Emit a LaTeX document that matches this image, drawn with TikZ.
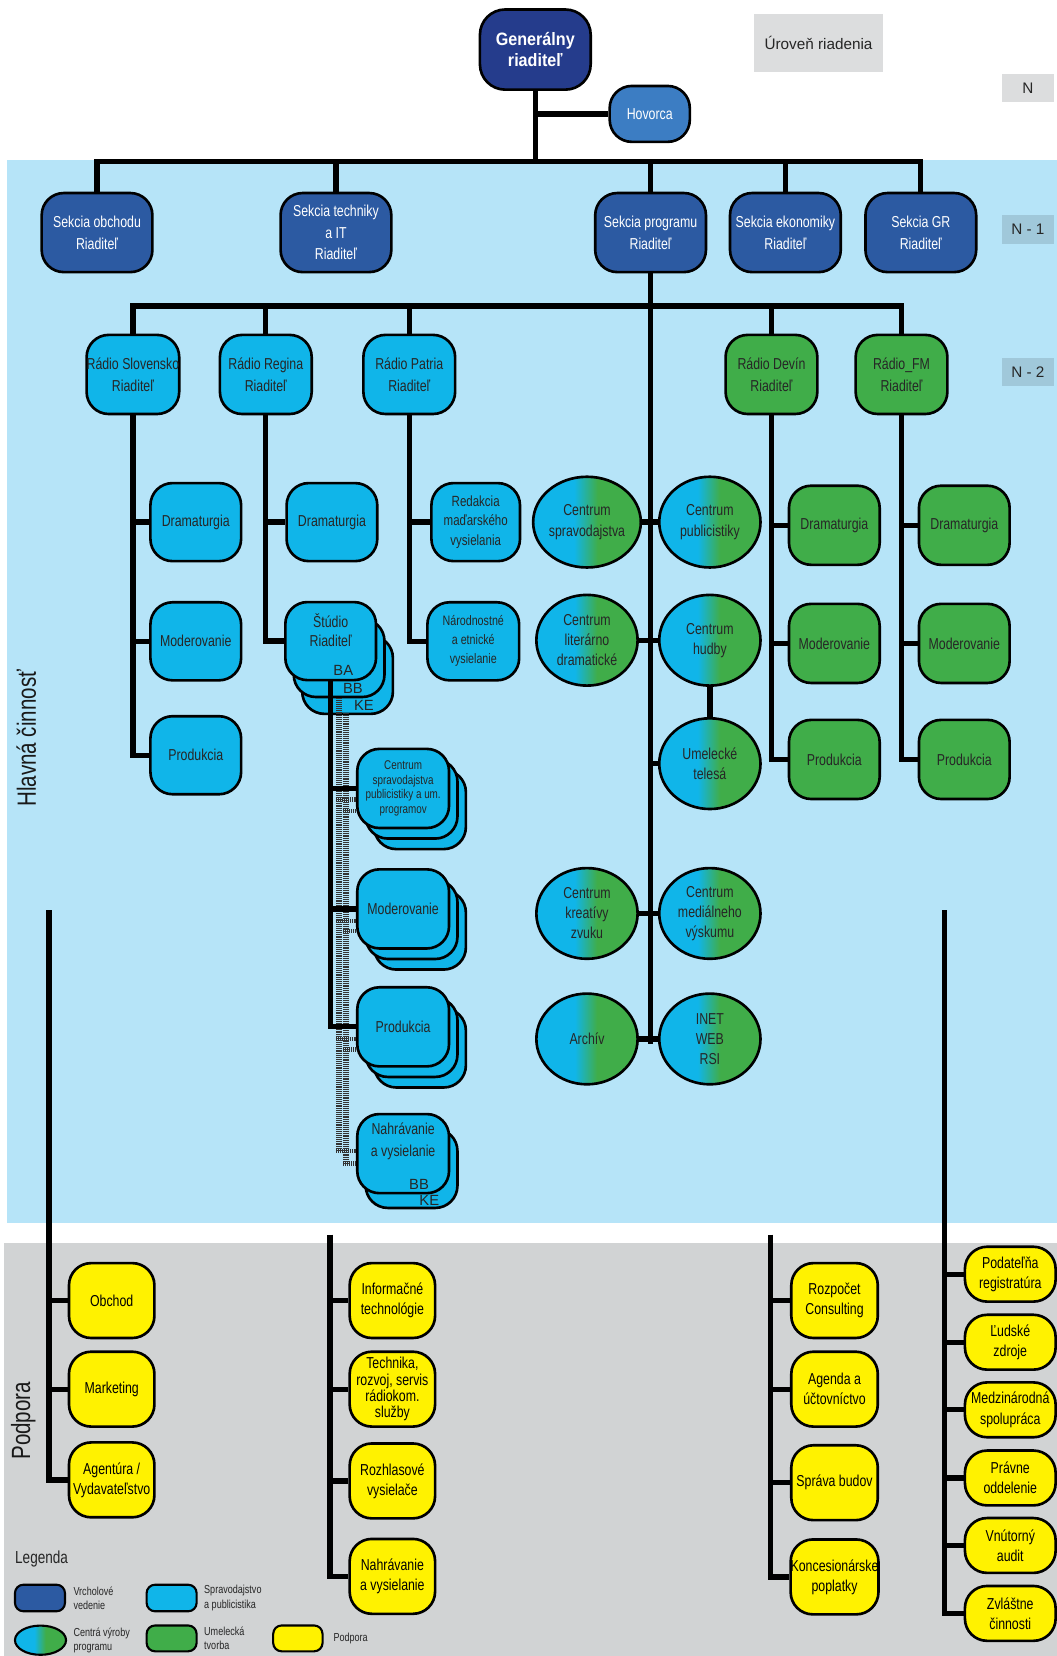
\documentclass[tikz,border=0pt]{standalone}
\usepackage{fontspec}
\setmainfont{Liberation Sans}[FakeStretch=0.78]
\newfontfamily\plainfont{Liberation Sans}
\newfontfamily\grfont{Liberation Sans}[FakeStretch=0.9]
\usetikzlibrary{shapes.geometric}
\definecolor{bgblue}{RGB}{182,228,248}
\definecolor{bggray}{RGB}{209,211,212}
\definecolor{lvlgray}{RGB}{220,221,222}
\definecolor{lvlblue}{RGB}{160,200,218}
\definecolor{topblue}{RGB}{37,60,140}
\definecolor{secblue}{RGB}{44,90,162}
\definecolor{hovblue}{RGB}{60,125,195}
\definecolor{cyanbox}{RGB}{16,181,233}
\definecolor{greenbox}{RGB}{64,173,73}
\definecolor{yellowbox}{RGB}{255,242,0}
\pgfdeclarehorizontalshading{cgrad}{100bp}{color(0bp)=(cyanbox); color(44bp)=(cyanbox); color(55bp)=(greenbox); color(100bp)=(greenbox)}
\tikzset{
  wh/.style 2 args={minimum width=#1pt, minimum height=#2pt},
  box/.style={draw=black, line width=2.5pt, rounded corners=21pt, inner sep=0pt, align=center, font=\fontsize{15}{20.5}\selectfont},
  topbox/.style={box, fill=topblue, text=white},
  secbox/.style={box, fill=secblue, text=white},
  cyb/.style={box, fill=cyanbox, text=black!85},
  grb/.style={box, fill=greenbox, text=black!85},
  yeb/.style={box, fill=yellowbox, text=black, font=\fontsize{15}{19}\selectfont},
  cen/.style={ellipse, draw=black, line width=2.5pt, shade, shading=cgrad, minimum width=96pt, minimum height=86pt, inner sep=0pt, align=center, text=black!85, font=\fontsize{15}{19}\selectfont},
  conn/.style={line width=5pt, black},
  hatch/.style={line width=5pt, black!80, dash pattern=on 0.9pt off 0.9pt},
  stub/.style={line width=4pt, black!80, dash pattern=on 0.9pt off 0.9pt},
  lvl/.style={fill=lvlgray, inner sep=0pt, text=black!85, font=\plainfont\fontsize{14.5}{17}\selectfont},
  tag/.style={inner sep=0pt, text=black!85, font=\plainfont\fontsize{14}{16}\selectfont},
  legbox/.style={draw=black, line width=2pt, rounded corners=8pt, inner sep=0pt},
  legtxt/.style={anchor=west, inner sep=0pt, align=left, text=black!85, font=\fontsize{11}{13.5}\selectfont},
  side/.style={rotate=90, inner sep=0pt, text=black!90, font=\fontsize{25}{28}\selectfont}
}
\begin{document}
\begin{tikzpicture}[x=1pt,y=-1pt]
\useasboundingbox (0,0) rectangle (1002,1570);
\fill[bgblue] (7,152) rectangle (1002,1159);
\fill[bggray] (4,1178) rectangle (1002,1570);

% level labels
\node[lvl, wh={122}{55}] (lv0) at (776,40.5) {Úroveň riadenia};
\node[lvl, wh={49}{27}] (lvN) at (974.5,83.5) {N};
\node[lvl, fill=lvlblue, wh={49}{27}] (lvN1) at (974.5,217.5) {N - 1};
\node[lvl, fill=lvlblue, wh={49}{27}] (lvN2) at (974.5,352.5) {N - 2};

% side labels
\node[side] (hl) at (25,700) {Hlavná činnosť};
\node[side] (pp) at (22,1347) {Podpora};

% top
\node[topbox, wh={105}{76}, rounded corners=24pt, font=\grfont\bfseries\fontsize{17}{20.5}\selectfont] (gr) at (507.5,47) {Generálny\\riaditeľ};
\node[box, fill=hovblue, text=white, wh={76}{53}] (hov) at (616,108) {Hovorca};

% N-1
\node[secbox, wh={105}{75}] (s1) at (92,220.5) {Sekcia obchodu\\Riaditeľ};
\node[secbox, wh={105}{75}] (s2) at (318.5,220.5) {Sekcia techniky\\a IT\\Riaditeľ};
\node[secbox, wh={105}{75}] (s3) at (616.8,220.5) {Sekcia programu\\Riaditeľ};
\node[secbox, wh={105}{75}] (s4) at (744.6,220.5) {Sekcia ekonomiky\\Riaditeľ};
\node[secbox, wh={105}{75}] (s5) at (873,220.5) {Sekcia GR\\Riaditeľ};

% N-2
\node[cyb, wh={87}{75}] (r1) at (126,355) {Rádio Slovensko\\Riaditeľ};
\node[cyb, wh={87}{75}] (r2) at (252,355) {Rádio Regina\\Riaditeľ};
\node[cyb, wh={87}{75}] (r3) at (388,355) {Rádio Patria\\Riaditeľ};
\node[grb, wh={87}{75}] (r4) at (731.4,355) {Rádio Devín\\Riaditeľ};
\node[grb, wh={87}{75}] (r5) at (854.7,355) {Rádio\_FM\\Riaditeľ};

% Radio Slovensko children
\node[cyb, wh={86}{74}] (rs1) at (185.6,495) {Dramaturgia};
\node[cyb, wh={86}{74}] (rs2) at (185.6,608) {Moderovanie};
\node[cyb, wh={86}{74}] (rs3) at (185.6,716) {Produkcia};

% Radio Regina children
\node[cyb, wh={86}{74}] (rg1) at (314.7,495) {Dramaturgia};
\node[cyb, wh={86}{74}] (st3) at (329.5,639.8) {};
\node[cyb, wh={86}{74}] (st2) at (321.5,623.8) {};
\node[cyb, wh={86}{74}, font=\fontsize{15}{18}\selectfont] (st) at (313.5,607.8) {Štúdio\\Riaditeľ\\[2pt]\ };
\node[tag] (tBA) at (325.5,636) {BA};
\node[tag] (tBB) at (334.6,652.3) {BB};
\node[tag] (tKE) at (345,669) {KE};

% Radio Patria children
\node[cyb, wh={84}{74}, font=\fontsize{14}{18.5}\selectfont] (pt1) at (451,495) {Redakcia\\maďarského\\vysielania};
\node[cyb, wh={87}{74}, font=\fontsize{13}{18}\selectfont] (pt2) at (448.7,608) {Národnostné\\a etnické\\vysielanie};

% Studio children stacks
\node[cyb, wh={87}{75}] (c1b2) at (398.2,767.5) {};
\node[cyb, wh={87}{75}] (c1b1) at (390.2,757.5) {};
\node[cyb, wh={87}{75}, font=\fontsize{12}{14}\selectfont] (c1) at (382.2,747.5) {Centrum\\spravodajstva\\publicistiky a um.\\programov};
\node[cyb, wh={87}{75}] (c2b2) at (398.2,881.7) {};
\node[cyb, wh={87}{75}] (c2b1) at (390.2,871.7) {};
\node[cyb, wh={87}{75}] (c2) at (382.2,861.7) {Moderovanie};
\node[cyb, wh={87}{75}] (c3b2) at (398.2,993.5) {};
\node[cyb, wh={87}{75}] (c3b1) at (390.2,983.5) {};
\node[cyb, wh={87}{75}] (c3) at (382.2,973.5) {Produkcia};
\node[cyb, wh={87}{75}] (c4b1) at (390.2,1107.7) {};
\node[cyb, wh={87}{75}] (c4) at (382.2,1093.7) {Nahrávanie\\a vysielanie\\[6pt]\ };
\node[tag] (nBB) at (397.3,1122.5) {BB};
\node[tag] (nKE) at (407,1138) {KE};

% centres
\node[cen] (e1) at (556.5,495) {Centrum\\spravodajstva};
\node[cen] (e2) at (673,495) {Centrum\\publicistiky};
\node[cen] (e3) at (556.5,607) {Centrum\\literárno\\dramatické};
\node[cen] (e4) at (673,607) {Centrum\\hudby};
\node[cen] (e5) at (673,724) {Umelecké\\telesá};
\node[cen] (e6) at (556.5,866) {Centrum\\kreatívy\\zvuku};
\node[cen] (e7) at (673,866) {Centrum\\mediálneho\\výskumu};
\node[cen] (e8) at (556.5,985) {Archív};
\node[cen] (e9) at (673,985) {INET\\WEB\\RSI};

% Devin / FM children
\node[grb, wh={86}{75}] (dv1) at (791,498) {Dramaturgia};
\node[grb, wh={86}{75}] (dv2) at (791,610) {Moderovanie};
\node[grb, wh={86}{75}] (dv3) at (791,720) {Produkcia};
\node[grb, wh={86}{75}] (fm1) at (914.2,498) {Dramaturgia};
\node[grb, wh={86}{75}] (fm2) at (914.2,610) {Moderovanie};
\node[grb, wh={86}{75}] (fm3) at (914.2,720) {Produkcia};

% support: left
\node[yeb, wh={81}{71}] (ob) at (105.9,1233) {Obchod};
\node[yeb, wh={81}{71}] (mk) at (105.9,1317) {Marketing};
\node[yeb, wh={81}{71}] (ag) at (105.9,1403) {Agentúra /\\Vydavateľstvo};
% support: middle left
\node[yeb, wh={81}{71}] (it) at (372,1233) {Informačné\\technológie};
\node[yeb, wh={81}{71}, font=\fontsize{15}{15.5}\selectfont] (te) at (372,1317) {Technika,\\rozvoj, servis\\rádiokom.\\služby};
\node[yeb, wh={81}{71}] (rv) at (372,1404) {Rozhlasové\\vysielače};
\node[yeb, wh={81}{71}] (nv) at (372,1494.5) {Nahrávanie\\a vysielanie};
% support: middle right
\node[yeb, wh={82}{71}] (rz) at (791.2,1233) {Rozpočet\\Consulting};
\node[yeb, wh={82}{71}] (au) at (791.2,1317) {Agenda a\\účtovníctvo};
\node[yeb, wh={82}{71}] (sb) at (791.2,1405.7) {Správa budov};
\node[yeb, wh={82}{71}] (kp) at (791.2,1495) {Koncesionárske\\poplatky};
% support: right
\node[yeb, wh={86}{52}] (pr) at (957.8,1208) {Podateľňa\\registratúra};
\node[yeb, wh={86}{52}] (lz) at (957.8,1272.5) {Ľudské\\zdroje};
\node[yeb, wh={86}{52}] (ms) at (957.8,1336.6) {Medzinárodná\\spolupráca};
\node[yeb, wh={86}{52}] (po) at (957.8,1401.2) {Právne\\oddelenie};
\node[yeb, wh={86}{52}] (va) at (957.8,1465.2) {Vnútorný\\audit};
\node[yeb, wh={86}{52}] (zc) at (957.8,1529.6) {Zvláštne\\činnosti};

% legend
\node[anchor=west, inner sep=0pt, text=black!85, font=\fontsize{16.5}{18}\selectfont] (leg) at (14.2,1478) {Legenda};
\node[legbox, fill=secblue, wh={47.4}{25.2}] (lb1) at (37.9,1515) {};
\node[legtxt] (lt1) at (69.5,1515) {Vrcholové\\vedenie};
\node[legbox, fill=cyanbox, wh={47.4}{25.2}] (lb2) at (162.7,1515) {};
\node[legtxt] (lt2) at (193.4,1515) {Spravodajstvo\\a publicistika};
\node[cen, line width=2pt, wh={48.4}{27.7}] (lb3) at (38.4,1555) {};
\node[legtxt] (lt3) at (69.5,1555) {Centrá výroby\\programu};
\node[legbox, fill=greenbox, wh={47.4}{24.5}] (lb4) at (162.7,1553.3) {};
\node[legtxt] (lt4) at (193.4,1553.3) {Umelecká\\tvorba};
\node[legbox, fill=yellowbox, wh={46.8}{24.5}] (lb5) at (282.4,1553.3) {};
\node[legtxt] (lt5) at (316,1553.3) {Podpora};

% ---------- connectors ----------
\coordinate (bar1) at (507.5,153);
\coordinate (bar2) at (616.8,290);
\coordinate (cend) at (616.8,990);
\draw[conn] (gr.south) -- (bar1);
\draw[conn] (gr.south |- hov.west) -- (hov.west);
\draw[conn] (s1.north) -- (s1.north |- bar1) -- (s5.north |- bar1) -- (s5.north);
\foreach \n in {s2,s3,s4} \draw[conn] (\n.north) -- (\n.north |- bar1);
\draw[conn] (s3.south) -- (cend);
\draw[conn] (r1.north) -- (r1.north |- bar2) -- (r5.north |- bar2) -- (r5.north);
\foreach \n in {r2,r3,r4} \draw[conn] (\n.north) -- (\n.north |- bar2);

\draw[conn] (r1.south) |- (rs3.west);
\draw[conn] (r1.south |- rs1.west) -- (rs1.west);
\draw[conn] (r1.south |- rs2.west) -- (rs2.west);
\draw[conn] (r2.south) |- (st.west);
\draw[conn] (r2.south |- rg1.west) -- (rg1.west);
\draw[conn] (r3.south) |- (pt2.west);
\draw[conn] (r3.south |- pt1.west) -- (pt1.west);
\draw[conn] (r4.south) |- (dv3.west);
\draw[conn] (r4.south |- dv1.west) -- (dv1.west);
\draw[conn] (r4.south |- dv2.west) -- (dv2.west);
\draw[conn] (r5.south) |- (fm3.west);
\draw[conn] (r5.south |- fm1.west) -- (fm1.west);
\draw[conn] (r5.south |- fm2.west) -- (fm2.west);

% studio hatch
\draw[hatch] (321.5,662) -- (321.5,1091);
\draw[hatch] (328,676) -- (328,1103);
\foreach \n/\ya/\yb in {c1/758/769, c2/873/883, c3/985/995} {
  \draw[stub] (319,\ya) -- (\n.west |- 0,\ya);
  \draw[stub] (325.5,\yb) -- (\n.west |- 0,\yb);
}
\draw[stub] (319,1091) -- (c4.west |- 0,1091);
\draw[stub] (325.5,1103) -- (c4.west |- 0,1103);
% studio main line
\draw[conn] (st.south) |- (c3.west);
\draw[conn] (st.south |- c1.west) -- (c1.west);
\draw[conn] (st.south |- c2.west) -- (c2.west);

% centres
\draw[conn] (e1.east) -- (e2.west);
\draw[conn] (e3.east) -- (e4.west);
\draw[conn] (e4.south) -- (e5.north);
\draw[conn] (cend |- e5.west) -- (e5.west);
\draw[conn] (e6.east) -- (e7.west);
\draw[conn] (e8.east) -- (e9.west);

% support lines
\coordinate (l1) at (46.4,863);
\coordinate (l2) at (312.8,1170.6);
\coordinate (l3) at (730.8,1170.6);
\coordinate (l4) at (895.7,863);
\draw[conn] (l1) |- (ag.west);
\draw[conn] (l1 |- ob.west) -- (ob.west);
\draw[conn] (l1 |- mk.west) -- (mk.west);
\draw[conn] (l2) |- (nv.west);
\foreach \n in {it,te,rv} \draw[conn] (l2 |- \n.west) -- (\n.west);
\draw[conn] (l3) |- (kp.west);
\foreach \n in {rz,au,sb} \draw[conn] (l3 |- \n.west) -- (\n.west);
\draw[conn] (l4) |- (zc.west);
\foreach \n in {pr,lz,ms,po,va} \draw[conn] (l4 |- \n.west) -- (\n.west);
\end{tikzpicture}
\end{document}
